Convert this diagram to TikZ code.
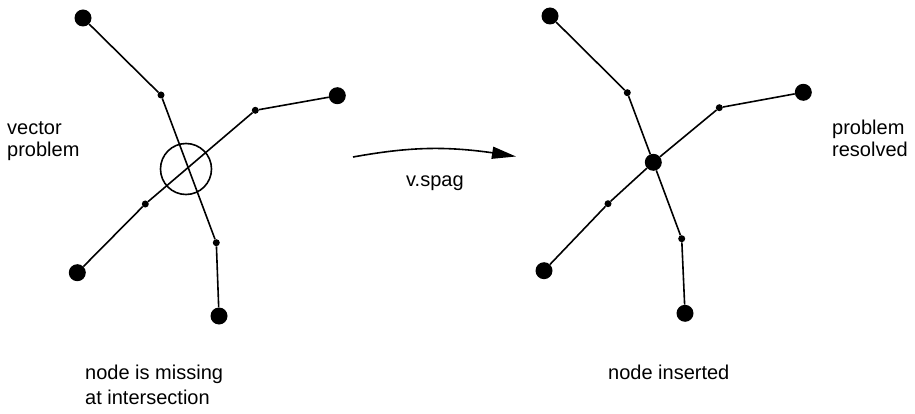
\documentclass[tikz,border=0pt]{standalone}
\usepackage{fontspec}
\setmainfont{Liberation Sans}
\usetikzlibrary{arrows.meta,bending}
\begin{document}
\begin{tikzpicture}[x=1pt,y=-1pt,
  bigdot/.style={circle,fill=black,inner sep=0pt,minimum size=17pt},
  smalldot/.style={circle,fill=black,inner sep=0pt,minimum size=7pt},
  edge/.style={line width=1.6pt},
  lbl/.style={anchor=base west,inner sep=0pt,font=\fontsize{20pt}{22pt}\selectfont}]
\useasboundingbox (0,0) rectangle (915,414);

% left network: two chains crossing without a shared node
\node[bigdot]   (la1) at (83,18) {};
\node[smalldot] (la2) at (161,95) {};
\node[smalldot] (la3) at (216.3,242.7) {};
\node[bigdot]   (la4) at (219,316) {};
\node[bigdot]   (lb1) at (337.3,95.7) {};
\node[smalldot] (lb2) at (255.3,110.3) {};
\node[smalldot] (lb3) at (145.3,204) {};
\node[bigdot]   (lb4) at (77.3,272.7) {};
\draw[edge] (la1) -- (la2) -- (la3) -- (la4);
\draw[edge] (lb1) -- (lb2) -- (lb3) -- (lb4);
\node[circle,draw,line width=1.6pt,inner sep=0pt,minimum size=51pt] (miss) at (186,169) {};

% right network: crossing replaced by a node
\node[bigdot]   (ra1) at (550,16) {};
\node[smalldot] (ra2) at (627.3,92.7) {};
\node[bigdot]   (rc)  at (653.3,162.3) {};
\node[smalldot] (ra3) at (681.7,238.7) {};
\node[bigdot]   (ra4) at (685,313.3) {};
\node[bigdot]   (rb1) at (803.3,92.3) {};
\node[smalldot] (rb2) at (719.3,107.7) {};
\node[smalldot] (rb3) at (608,203.7) {};
\node[bigdot]   (rb4) at (544,270.7) {};
\draw[edge] (ra1) -- (ra2) -- (rc) -- (ra3) -- (ra4);
\draw[edge] (rb1) -- (rb2) -- (rc) -- (rb3) -- (rb4);

% transformation arrow
\coordinate (as) at (353,157);
\coordinate (ae) at (516,156.5);
\draw[line width=1.6pt,-{Triangle[length=24pt,width=12pt]}] (as) to[bend left=10] (ae);
\node[lbl] (cmd) at (406,186) {v.spag};

% captions
\node[lbl] (t1) at (7,135) {vector};
\node[lbl] (t2) at (7,157) {problem};
\node[lbl] (t3) at (832,135) {problem};
\node[lbl] (t4) at (832,157) {resolved};
\node[lbl] (t5) at (85,379) {node is missing};
\node[lbl] (t6) at (85,404) {at intersection};
\node[lbl] (t7) at (608,379) {node inserted};
\end{tikzpicture}
\end{document}
